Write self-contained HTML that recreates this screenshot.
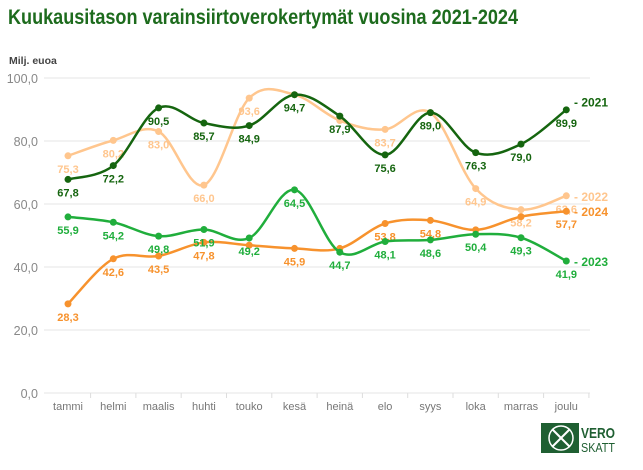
<!DOCTYPE html>
<html><head><meta charset="utf-8"><style>
body{margin:0;background:#fff;width:643px;height:465px;overflow:hidden;font-family:"Liberation Sans",sans-serif}
</style></head><body>
<svg id="s" width="643" height="465" xmlns="http://www.w3.org/2000/svg" font-family="Liberation Sans, sans-serif">
<text x="8" y="24" font-size="21" font-weight="bold" fill="#1d6b1d" textLength="510" lengthAdjust="spacingAndGlyphs">Kuukausitason varainsiirtoverokertymät vuosina 2021-2024</text>
<text x="9" y="64" font-size="10.5" font-weight="bold" fill="#444">Milj. euoa</text>
<g id="grid"></g>
<g id="lines"></g>
<g transform="translate(541,423)">
<rect x="0" y="0" width="38" height="30" fill="#1f5f32"/>
<circle cx="20" cy="15" r="12" fill="none" stroke="#fff" stroke-width="1.5"/>
<line x1="11" y1="24" x2="29" y2="6" stroke="#fff" stroke-width="2"/>
<line x1="11" y1="6" x2="29" y2="24" stroke="#fff" stroke-width="2"/>
<text x="40" y="15" font-size="15" font-weight="bold" fill="#1f5f32" textLength="34" lengthAdjust="spacingAndGlyphs">VERO</text>
<text x="40" y="29" font-size="13" fill="#1f5f32" textLength="34" lengthAdjust="spacingAndGlyphs">SKATT</text>
</g>
</svg>
<script>
const NS="http://www.w3.org/2000/svg";
const y=v=>393-3.15*v, X=i=>68+i*45.3;
const months=["tammi","helmi","maalis","huhti","touko","kesä","heinä","elo","syys","loka","marras","joulu"];
let g=document.getElementById("grid"),h="";
for(let v=0;v<=100;v+=20){h+=`<line x1="44" x2="590" y1="${y(v)}" y2="${y(v)}" stroke="#e6e6e6" stroke-width="1"/><text x="38" y="${y(v)+5}" font-size="12.5" fill="#888" text-anchor="end">${v},0</text>`;}
months.forEach((m,i)=>{h+=`<line x1="${X(i)+22.6}" x2="${X(i)+22.6}" y1="393" y2="398" stroke="#ddd"/><text x="${X(i)}" y="410" font-size="11" fill="#777" text-anchor="middle">${m}</text>`});
g.innerHTML=h;
const S=[
 {c:"#ffc68e",d:[75.3,80.2,83.0,66.0,93.6,94.7,86.5,83.7,89.0,64.9,58.2,62.6],lab:[1,1,1,1,1,0,0,1,0,1,1,1],n:"2022",ny:y(62.6)},
 {c:"#f7922d",d:[28.3,42.6,43.5,47.8,46.9,45.9,45.9,53.8,54.8,51.8,56.0,57.7],lab:[1,1,1,1,0,1,0,1,1,0,0,1],n:"2024",ny:y(57.8)},
 {c:"#20ae3c",d:[55.9,54.2,49.8,51.9,49.2,64.5,44.7,48.1,48.6,50.4,49.3,41.9],lab:[1,1,1,1,1,1,1,1,1,1,1,1],n:"2023",ny:y(41.9)},
 {c:"#15650f",d:[67.8,72.2,90.5,85.7,84.9,94.7,87.9,75.6,89.0,76.3,79.0,89.9],lab:[1,1,1,1,1,1,1,1,1,1,1,1],n:"2021",ny:y(92.5)}
];
let L="";
S.forEach(s=>{
 const p=s.d.map((v,i)=>[X(i),y(v)]);
 let d=`M${p[0][0]},${p[0][1]}`;
 for(let i=0;i<p.length-1;i++){
  const p0=p[i-1]||p[i],p1=p[i],p2=p[i+1],p3=p[i+2]||p2;
  const t=0.17;
  d+=` C${p1[0]+(p2[0]-p0[0])*t},${p1[1]+(p2[1]-p0[1])*t} ${p2[0]-(p3[0]-p1[0])*t},${p2[1]-(p3[1]-p1[1])*t} ${p2[0]},${p2[1]}`;
 }
 L+=`<path d="${d}" fill="none" stroke="${s.c}" stroke-width="2.5"/>`;
 p.forEach((q,i)=>{
  L+=`<circle cx="${q[0]}" cy="${q[1]}" r="3.5" fill="${s.c}"/>`;
  if(s.lab[i])L+=`<text x="${q[0]}" y="${q[1]+17}" font-size="11" font-weight="bold" fill="${s.c}" text-anchor="middle">${s.d[i].toFixed(1).replace('.',',')}</text>`;
 });
 L+=`<text x="574" y="${s.ny+5}" font-size="12" font-weight="bold" fill="${s.c}">- ${s.n}</text>`;
});
document.getElementById("lines").innerHTML=L;
</script>
</body></html>
